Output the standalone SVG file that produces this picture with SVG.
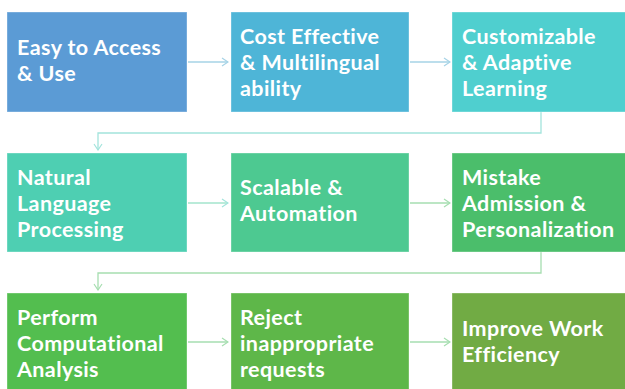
<svg xmlns="http://www.w3.org/2000/svg" width="625" height="389" viewBox="0 0 625 389">
<style>
.box{stroke:#ffffff;stroke-opacity:0.35;stroke-width:1}
.t{font-family:Lato,"Open Sans","Liberation Sans",sans-serif;font-weight:bold;font-size:21.5px;letter-spacing:0.4px;fill:#ffffff}
.c{fill:none;stroke-width:1.3}
</style>
<defs>
<marker id="ab" markerWidth="8" markerHeight="10" refX="7" refY="5" orient="auto" markerUnits="userSpaceOnUse"><path d="M1,1 L7,5 L1,9" fill="none" stroke="#a6d3e6" stroke-width="1.2"/></marker>
<marker id="at" markerWidth="8" markerHeight="10" refX="7" refY="5" orient="auto" markerUnits="userSpaceOnUse"><path d="M1,1 L7,5 L1,9" fill="none" stroke="#a3e4dc" stroke-width="1.2"/></marker>
<marker id="ag" markerWidth="8" markerHeight="10" refX="7" refY="5" orient="auto" markerUnits="userSpaceOnUse"><path d="M1,1 L7,5 L1,9" fill="none" stroke="#a6deb0" stroke-width="1.2"/></marker>
</defs>
<rect width="625" height="389" fill="#ffffff"/>
<g id="connectors">
<line class="c" x1="188" y1="62" x2="228" y2="62" stroke="#a6d3e6" marker-end="url(#ab)"/>
<line class="c" x1="410" y1="62" x2="450" y2="62" stroke="#a6d3e6" marker-end="url(#ab)"/>
<polyline class="c" points="541,112 541,133 98,133 98,150" stroke="#a3e4dc" marker-end="url(#at)"/>
<line class="c" x1="188" y1="203" x2="228" y2="203" stroke="#a3e4cc" marker-end="url(#at)"/>
<line class="c" x1="410" y1="203" x2="450" y2="203" stroke="#a6deb0" marker-end="url(#ag)"/>
<polyline class="c" points="541,252 541,273 98,273 98,290" stroke="#a6deb0" marker-end="url(#ag)"/>
<line class="c" x1="188" y1="342" x2="228" y2="342" stroke="#a6deb0" marker-end="url(#ag)"/>
<line class="c" x1="410" y1="342" x2="450" y2="342" stroke="#a6deb0" marker-end="url(#ag)"/>
</g>
<g id="n1"><rect class="box" x="7" y="12" width="180" height="100" fill="#5b9bd5"/><text class="t"><tspan x="17" y="55">Easy to Access</tspan><tspan x="17" y="81">&amp; Use</tspan></text></g>
<g id="n2"><rect class="box" x="231" y="12" width="178" height="100" fill="#4eb5d7"/><text class="t"><tspan x="240" y="44">Cost Effective</tspan><tspan x="240" y="70">&amp; Multilingual</tspan><tspan x="240" y="96">ability</tspan></text></g>
<g id="n3"><rect class="box" x="452" y="12" width="180" height="100" fill="#4fcfcf"/><text class="t"><tspan x="462" y="44">Customizable</tspan><tspan x="462" y="70">&amp; Adaptive</tspan><tspan x="462" y="96">Learning</tspan></text></g>
<g id="n4"><rect class="box" x="7" y="153" width="180" height="99" fill="#4ecfb2"/><text class="t"><tspan x="17" y="185">Natural</tspan><tspan x="17" y="211">Language</tspan><tspan x="17" y="237">Processing</tspan></text></g>
<g id="n5"><rect class="box" x="231" y="153" width="178" height="99" fill="#4dc991"/><text class="t"><tspan x="240" y="195">Scalable &amp;</tspan><tspan x="240" y="221">Automation</tspan></text></g>
<g id="n6"><rect class="box" x="452" y="153" width="180" height="99" fill="#4bbe6b"/><text class="t"><tspan x="462" y="185">Mistake</tspan><tspan x="462" y="211">Admission &amp;</tspan><tspan x="462" y="237">Personalization</tspan></text></g>
<g id="n7"><rect class="box" x="7" y="293" width="180" height="100" fill="#53be4f"/><text class="t"><tspan x="17" y="325">Perform</tspan><tspan x="17" y="351">Computational</tspan><tspan x="17" y="377">Analysis</tspan></text></g>
<g id="n8"><rect class="box" x="231" y="293" width="178" height="100" fill="#5eb749"/><text class="t"><tspan x="240" y="325">Reject</tspan><tspan x="240" y="351">inappropriate</tspan><tspan x="240" y="377">requests</tspan></text></g>
<g id="n9"><rect class="box" x="452" y="293" width="180" height="100" fill="#71ab44"/><text class="t"><tspan x="462" y="336">Improve Work</tspan><tspan x="462" y="362">Efficiency</tspan></text></g>
</svg>
